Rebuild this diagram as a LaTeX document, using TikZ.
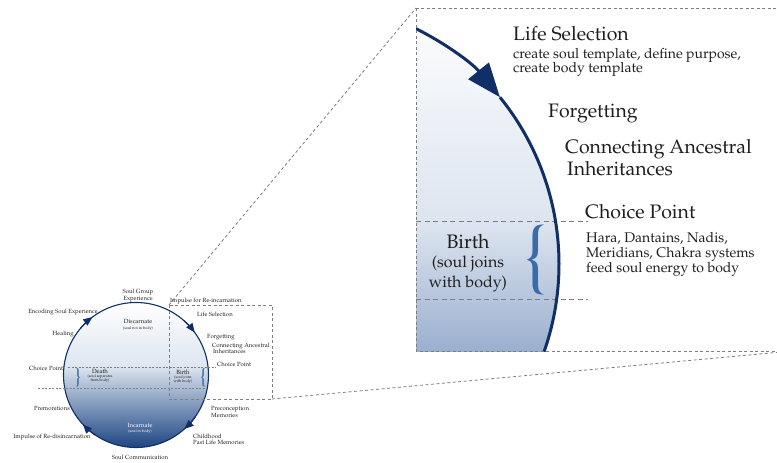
\documentclass[tikz,border=0pt]{standalone}
\usepackage[T1]{fontenc}
\usepackage{mathpazo}
\usetikzlibrary{arrows.meta}
\definecolor{navy}{HTML}{0F2F66}
\definecolor{bracecol}{HTML}{3A6CA8}
\definecolor{dashgray}{HTML}{7E7E7E}
\definecolor{txt}{HTML}{1E1E1E}
\definecolor{palebl}{HTML}{DEE6F0}
\definecolor{palebig}{HTML}{DCE4EF}
\definecolor{deepbl}{HTML}{1C4482}
\definecolor{midbl}{HTML}{9AAFCE}
\begin{document}
\begin{tikzpicture}[x=1pt,y=-1pt,
  zoomline/.style={draw=dashgray, line width=0.8pt, dash pattern=on 3pt off 2.5pt},
  bandline/.style={draw=dashgray, line width=0.6pt, dash pattern=on 2pt off 1.5pt},
  bigband/.style={draw=dashgray, line width=0.9pt, dash pattern=on 5pt off 3.5pt},
  smalltxt/.style={font=\fontsize{6}{7}\selectfont, text=txt, inner sep=0pt, anchor=base},
  smallleft/.style={smalltxt, anchor=base west},
  tinytxt/.style={font=\fontsize{3.8}{4.5}\selectfont, text=txt, inner sep=0pt, anchor=base},
  bigtxt/.style={font=\fontsize{19.5}{22}\selectfont, text=txt, inner sep=0pt, anchor=base west},
  medtxt/.style={font=\fontsize{14}{16}\selectfont, text=txt, inner sep=0pt, anchor=base west},
  birthtxt/.style={font=\fontsize{19.5}{22}\selectfont, text=txt, inner sep=0pt, anchor=base},
  birthsub/.style={font=\fontsize{16}{18}\selectfont, text=txt, inner sep=0pt, anchor=base},
  smallarrow/.style={navy, line width=1.1pt, -{Triangle[length=9pt,width=7.5pt]}},
]
\useasboundingbox (0,0) rectangle (777,463);

% ---------- small circle ----------
\coordinate (sc) at (136,375);
\begin{scope}
  \clip (sc) circle[radius=72.5];
  \shade[top color=white, bottom color=palebl] (60,302) rectangle (212,366.5);
  \shade[top color=palebl, bottom color=deepbl] (60,366) rectangle (212,448);
\end{scope}
\draw[navy, line width=1.1pt] (sc) circle[radius=72.5];
\draw[smallarrow] ([shift={(-140:72.5)}]sc) arc[start angle=-140, end angle=-127, radius=72.5];
\draw[smallarrow] ([shift={(-49:72.5)}]sc) arc[start angle=-49, end angle=-36, radius=72.5];
\draw[smallarrow] ([shift={(35:72.5)}]sc) arc[start angle=35, end angle=48, radius=72.5];
\draw[smallarrow] ([shift={(124:72.5)}]sc) arc[start angle=124, end angle=137, radius=72.5];

% band lines small
\draw[bandline] (68,367) -- (216,367);
\draw[bandline] (38,388) -- (207,388);

% zoom rectangles and connectors
\coordinate (zA) at (169,305);
\coordinate (zB) at (272,399);
\coordinate (bA) at (416,8);
\coordinate (bB) at (792,351);
\draw[zoomline] (zA) rectangle (zB);
\draw[zoomline] (zA) -- (bA);
\draw[zoomline] (zB) -- (bB);

% ---------- big panel ----------
\coordinate (bc) at (294,264);
\begin{scope}
  \clip (bA) rectangle (bB);
  \begin{scope}
    \clip (bc) circle[radius=265];
    \shade[top color=white, bottom color=palebig] (416,0) rectangle (562,225);
    \shade[top color=palebig, bottom color=midbl] (416,224) rectangle (562,352);
  \end{scope}
  \draw[bigband] (416,221) -- (588,221);
  \draw[bigband] (416,299) -- (588,299);
  \draw[navy, line width=3pt] ([shift={(-39:265)}]bc) arc[start angle=-39, end angle=22, radius=265];
  \draw[navy, line width=3pt, -{Triangle[length=34pt,width=26pt]}] ([shift={(-68:265)}]bc) arc[start angle=-68, end angle=-39, radius=265];
\end{scope}
\draw[zoomline] (bA) rectangle (bB);

% big brace
\node[text=bracecol, font=\fontsize{78}{78}\selectfont, inner sep=0pt] (bbrace) at (535,260) {\textbraceleft};

% big texts
\node[bigtxt] (ls) at (513,40) {Life Selection};
\node[medtxt] (ls1) at (513,58) {create soul template, define purpose,};
\node[medtxt] (ls2) at (513,72) {create body template};
\node[bigtxt] (fg) at (548,117) {Forgetting};
\node[bigtxt] (ca1) at (565,153) {Connecting Ancestral};
\node[bigtxt] (ca2) at (567,175) {Inheritances};
\node[bigtxt] (cp) at (585,218) {Choice Point};
\node[medtxt] (h1) at (586,242) {Hara, Dantains, Nadis,};
\node[medtxt] (h2) at (586,257) {Meridians, Chakra systems};
\node[medtxt] (h3) at (586,272) {feed soul energy to body};
\node[birthtxt] (bb) at (468,248) {Birth};
\node[birthsub] (bb1) at (468,267) {(soul joins};
\node[birthsub] (bb2) at (468,287) {with body)};

% small braces
\node[text=bracecol, font=\fontsize{21}{21}\selectfont, inner sep=0pt] (lbrace) at (78,378) {\textbraceright};
\node[text=bracecol, font=\fontsize{21}{21}\selectfont, inner sep=0pt] (rbrace) at (203,378) {\textbraceleft};

% small texts
\node[smalltxt] (sg1) at (138,293) {Soul Group};
\node[smalltxt] (sg2) at (138,300) {Experience};
\node[smalltxt] (enc) at (63,313) {Encoding Soul Experience};
\node[smalltxt] (heal) at (63,335) {Healing};
\node[smallleft] (imp1) at (170,302) {Impulse for Re-incarnation};
\node[smallleft] (sls) at (197,316) {Life Selection};
\node[smalltxt] (dis) at (138,323) {Discarnate};
\node[tinytxt] (dis2) at (138,329) {(soul not in body)};
\node[smallleft] (sfg) at (207,338) {Forgetting};
\node[smallleft] (sca1) at (212,347) {Connecting Ancestral};
\node[smallleft] (sca2) at (213,353) {Inheritances};
\node[smallleft] (scp) at (217,366) {Choice Point};
\node[smalltxt] (scp2) at (47,370) {Choice Point'};
\node[smalltxt] (dth) at (100,373) {Death};
\node[tinytxt] (dth1) at (100,377.5) {(soul separates};
\node[tinytxt] (dth2) at (100,381.5) {from body)};
\node[smalltxt] (sbr) at (183,374) {Birth};
\node[tinytxt] (sbr1) at (183,378.5) {(soul joins};
\node[tinytxt] (sbr2) at (183,382.5) {with body)};
\node[smalltxt] (pre) at (52,410) {Premonitions};
\node[smallleft] (pc1) at (211,410) {Preconception};
\node[smallleft] (pc2) at (211,417) {Memories};
\node[smalltxt] (imp2) at (52,438) {Impulse of Re-disincarnation};
\node[smalltxt, text=white] (inc) at (140,427) {Incarnate};
\node[tinytxt, text=white] (inc2) at (140,432) {(soul in body)};
\node[smallleft] (ch1) at (193,438) {Childhood};
\node[smallleft] (ch2) at (193,444) {Past Life Memories};
\node[smalltxt] (scom) at (140,459) {Soul Communication};
\end{tikzpicture}
\end{document}
